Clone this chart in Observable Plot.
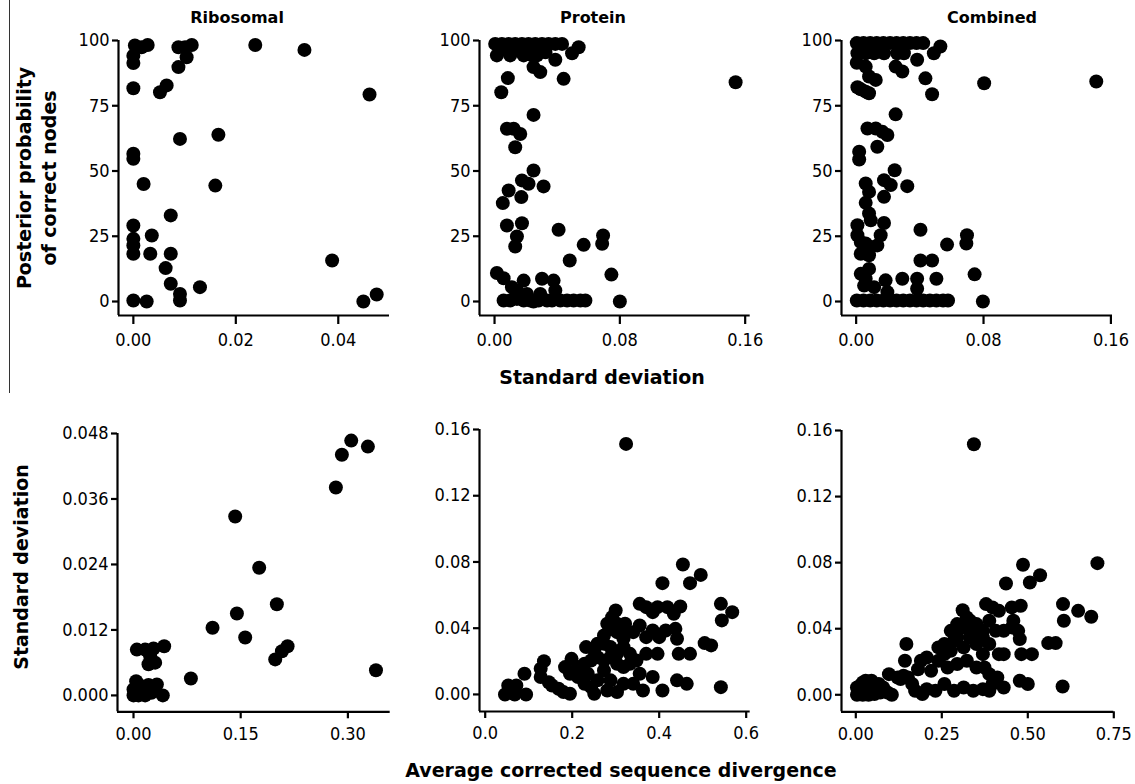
<!DOCTYPE html>
<html>
<head>
<meta charset="utf-8">
<script src="https://cdn.jsdelivr.net/npm/d3@7"></script>
<script src="https://cdn.jsdelivr.net/npm/@observablehq/plot@0.6"></script>
<style>
  html, body { margin: 0; padding: 0; background: #fff; }
  #fig { position: relative; width: 1135px; height: 784px; background: #fff; font-family: "DejaVu Sans", sans-serif; color: #000; overflow: hidden; }
  #fig svg { position: absolute; max-width: none; }
  .lbl { position: absolute; white-space: nowrap; font-weight: bold; transform: translate(-50%, -50%); }
  .rot { transform: translate(-50%, -50%) rotate(-90deg); text-align: center; }
</style>
</head>
<body>
<div id="fig"></div>
<script>
// ---------- Data ----------
const panelTitles = ["Ribosomal", "Protein", "Combined"];
const topYLabel = ["Posterior probability", "of correct nodes"];
const topXLabel = "Standard deviation";
const bottomYLabel = "Standard deviation";
const bottomXLabel = "Average corrected sequence divergence";

const ppTicks = [0, 25, 50, 75, 100];
const riboSdTicks = [0, 0.02, 0.04];
const sdTicks016 = [0, 0.08, 0.16];
const riboSd2Ticks = [0, 0.012, 0.024, 0.036, 0.048];
const riboDivTicks = [0, 0.15, 0.30];
const sd2Ticks016 = [0, 0.04, 0.08, 0.12, 0.16];
const protDivTicks = [0, 0.2, 0.4, 0.6];
const combDivTicks = [0, 0.25, 0.50, 0.75];

// [standard deviation, posterior probability]
const riboTop = [
  [0.0003,98.1],[0.0016,97.4],[0.0028,98.3],[0,94.2],[0,91.4],[0,81.7],[0.0052,80.2],[0.0065,82.8],
  [0.0088,89.8],[0.0088,97.4],[0.0104,93.6],[0.0101,97.4],[0.0114,98.3],[0.0238,98.3],[0.0334,96.4],
  [0.0461,79.3],[0.0166,63.9],[0.0091,62.3],[0,56.6],[0,54.7],[0.002,45.0],[0.016,44.4],[0.0073,33.0],
  [0,29.1],[0.0036,25.3],[0,24.0],[0,21.5],[0,18.3],[0.0033,18.3],[0.0073,18.3],[0.0063,12.8],
  [0.0073,6.8],[0.013,5.5],[0.0091,2.9],[0.0091,0.4],[0,0.4],[0.0026,0],[0.0388,15.7],[0.0449,0],[0.0475,2.7]
];
const protTop = [
  [0.0004,98.7],[0.0047,98.7],[0.009,98.7],[0.0132,98.7],[0.0175,98.7],[0.0217,98.7],[0.026,98.7],
  [0.0303,98.7],[0.0345,98.7],[0.0388,98.7],[0.0431,98.7],[0.0537,97.4],
  [0.0015,94.3],[0.01,94.3],[0.0186,94.3],[0.0239,94.3],[0.0271,94.3],[0.0495,95.1],
  [0.0065,96.5],[0.0155,96.8],[0.0325,95.5],[0.0225,96.2],
  [0.0388,92.6],[0.0249,89.8],[0.0292,87.9],[0.0441,85.3],[0.0085,85.6],[0.0043,80.2],[0.1539,84.0],
  [0.0249,71.5],[0.0079,66.2],[0.0122,66.2],[0.0164,64.2],[0.0132,59.1],
  [0.0249,50.2],[0.0175,46.4],[0.0217,45.1],[0.0313,44.1],[0.009,42.5],[0.0171,40.0],[0.0053,37.7],
  [0.0079,29.1],[0.0175,30.0],[0.0143,24.9],[0.0132,21.1],
  [0.0409,27.5],[0.0569,21.7],[0.0693,25.3],[0.0687,22.1],[0.048,15.7],[0.0746,10.3],[0.08,0],
  [0.0015,10.9],[0.0058,8.9],
  [0.0058,0.4],[0.01,0.4],[0.0143,1.0],[0.0186,8.0],[0.0143,4.2],[0.0207,2.9],[0.0249,0],[0.0303,8.7],
  [0.0292,2.9],[0.0335,0.4],[0.0377,8.0],[0.0388,4.2],[0.042,0.4],[0.0463,0.4],[0.0505,0.4],[0.0548,0.4],
  [0.058,0.4],[0.0111,5.5],[0.0228,0.4],[0.0367,0.4],[0.0281,0.4],[0.0186,0.4]
];
const combTop = [
  [0.0004,99],[0.0046,99],[0.0088,99],[0.0129,99],[0.0171,99],[0.0213,99],[0.0254,99],[0.0296,99],
  [0.0338,99],[0.0379,99],[0.0421,99],[0.0529,97.7],[0.0488,95.1],
  [0.0008,95.1],[0.006,95.1],[0.0113,95.1],[0.0175,95.1],[0.0258,95.1],[0.03,95.1],
  [0.0004,91.5],[0.006,90.0],[0.0081,86.2],[0.0123,84.9],[0.0248,90.0],[0.029,88.1],[0.0383,92.6],
  [0.0435,85.5],[0.0477,79.4],[0.0804,83.6],[0.1508,84.3],
  [0.0008,82.1],[0.0029,81.3],[0.006,80.4],[0.0081,79.8],[0.0248,71.7],
  [0.0071,66.3],[0.0123,66.3],[0.0165,65.0],[0.0196,63.8],[0.0133,59.3],[0.0019,57.4],[0.0019,54.4],
  [0.0242,50.3],[0.0175,46.5],[0.0217,44.6],[0.0321,44.2],[0.0175,40.1],[0.006,45.2],[0.0081,42.0],[0.006,37.8],
  [0.0081,33.7],[0.0092,31.1],[0.0008,29.2],[0.0008,25.4],[0.0029,22.8],[0.006,22.2],[0.0092,20.9],
  [0.0175,30.1],[0.0154,25.4],[0.0133,21.5],[0.0029,18.3],[0.0081,17.7],
  [0.0404,27.5],[0.0571,21.8],[0.0696,25.4],[0.0692,22.2],[0.0404,15.7],[0.0477,15.7],[0.0744,10.4],
  [0.0796,0],[0.0504,8.7],
  [0.0029,10.6],[0.0081,12.5],[0.006,8.7],[0.005,6.1],[0.0113,5.5],[0.0185,8.1],[0.029,8.7],[0.0383,8.7],
  [0.0383,4.9],[0.0196,3.6],
  [0.0004,0.4],[0.0046,0.4],[0.0088,0.4],[0.0129,0.4],[0.0171,0.4],[0.0213,0.4],[0.0254,0.4],[0.0296,0.4],
  [0.0338,0.4],[0.0379,0.4],[0.0421,0.4],[0.0463,0.4],[0.0504,0.4],[0.0546,0.4],[0.0577,0.4]
];
// [average corrected sequence divergence, standard deviation]
const riboBottom = [
  [0.3047,0.0467],[0.2916,0.0441],[0.328,0.0456],[0.2832,0.0381],[0.1423,0.0328],[0.1759,0.0234],
  [0.2006,0.0167],[0.1447,0.0150],[0.1106,0.0124],[0.1563,0.0106],[0.2156,0.0090],[0.2077,0.0081],
  [0.1983,0.0066],[0.3393,0.0046],[0.0803,0.0031],
  [0.0047,0.0084],[0.0163,0.0084],[0.028,0.0086],[0.0429,0.0090],[0.0233,0.0072],[0.021,0.0057],
  [0.0303,0.0060],[0.0037,0.0026],[0.0117,0.0017],[0.021,0.0019],[0.0327,0.0020],[0,0],[0.007,0],
  [0.0163,0],[0.041,0],[0,0.0011],[0.0093,0.0008],[0.025,0.0005],[0.005,0.0005],[0.013,0.0012]
];
const protBottom = [
  [0.3239,0.1513],[0.4545,0.0785],[0.4955,0.0722],[0.4709,0.0672],[0.4075,0.0672],[0.3,0.0507],
  [0.3552,0.0547],[0.3701,0.0527],[0.3851,0.0497],[0.3963,0.0527],[0.4187,0.0527],[0.4336,0.0487],
  [0.4485,0.0531],[0.5418,0.0547],[0.5679,0.0497],[0.544,0.0447],[0.5045,0.0310],[0.5194,0.0296],
  [0.5418,0.0044],[0.441,0.0085],[0.4634,0.0064],[0.4373,0.0396],[0.441,0.0336],[0.4448,0.0245],
  [0.4709,0.0245],[0.4075,0.0024],[0.3851,0.0105],[0.3627,0.0024],[0.3403,0.0064],[0.3701,0.0245],
  [0.3963,0.0245],[0.3403,0.0376],[0.3552,0.0416],[0.3701,0.0346],[0.4,0.0346],[0.3851,0.0386],
  [0.4149,0.0386],[0.3216,0.0427],[0.2731,0.0356],[0.2881,0.0396],[0.303,0.0376],[0.3179,0.0336],
  [0.2321,0.0286],[0.2507,0.0266],[0.2731,0.0306],[0.2881,0.0286],[0.303,0.0245],[0.3179,0.0286],
  [0.3328,0.0245],[0.3478,0.0205],[0.1985,0.0215],[0.1948,0.0125],[0.2134,0.0165],[0.2284,0.0185],
  [0.2433,0.0205],[0.2582,0.0225],[0.2731,0.0205],[0.2881,0.0225],[0.303,0.0185],[0.3179,0.0165],
  [0.3328,0.0185],[0.3552,0.0125],[0.2284,0.0064],[0.2507,0.0004],[0.2806,0.0024],[0.303,0.0014],
  [0.2582,0.0085],[0.2881,0.0085],[0.3179,0.0064],[0.2358,0.0125],[0.2731,0.0145],[0.1948,0.0004],
  [0.1799,0.0014],[0.1687,0.0034],[0.1537,0.0054],[0.1463,0.0074],[0.1276,0.0105],[0.1276,0.0155],
  [0.1351,0.0201],[0.0903,0.0125],[0.094,0],[0.0455,0],[0.053,0.0054],[0.0716,0.0054],[0.0679,0],
  [0.2918,0.0467],[0.2806,0.0427],[0.3030,0.0427],[0.3142,0.0396],[0.2582,0.0306],[0.2134,0.0105],
  [0.2433,0.0044],[0.1836,0.0165]
];
const combBottom = [
  [0.3433,0.1517],[0.486,0.0787],[0.7024,0.0797],[0.5357,0.0724],[0.506,0.068],[0.4366,0.0674],
  [0.6024,0.0549],[0.6464,0.0508],[0.6845,0.0472],[0.6048,0.0448],[0.5595,0.0313],[0.581,0.0313],
  [0.6012,0.005],[0.3106,0.0512],[0.3787,0.0549],[0.3974,0.0529],[0.416,0.0508],[0.4534,0.0529],
  [0.4795,0.0539],[0.458,0.0448],[0.472,0.0387],[0.4767,0.0337],[0.4813,0.0246],[0.5119,0.0246],
  [0.4767,0.0085],[0.5,0.0065],[0.43,0.0044],[0.4114,0.0105],[0.416,0.0246],[0.43,0.0246],
  [0.388,0.0448],[0.4067,0.0387],[0.43,0.0387],[0.4534,0.0408],[0.3321,0.0448],[0.3507,0.0428],
  [0.3694,0.0387],[0.388,0.0307],[0.2761,0.0387],[0.2948,0.0428],[0.3134,0.0408],[0.3321,0.0347],
  [0.3507,0.0307],[0.3694,0.0246],[0.2948,0.0347],[0.3134,0.0287],[0.24,0.0287],[0.2575,0.0246],
  [0.2761,0.0266],[0.24,0.0206],[0.2668,0.0165],[0.2948,0.0186],[0.3228,0.0206],[0.3507,0.0165],
  [0.3741,0.0165],[0.3881,0.0125],[0.2062,0.0226],[0.1893,0.0206],[0.2189,0.0145],[0.1808,0.0155],
  [0.2575,0.0065],[0.2855,0.0024],[0.3134,0.0044],[0.3414,0.0024],[0.3694,0.0034],[0.3881,0.0024],
  [0.3974,0.0065],[0.2315,0.0024],[0.2062,0.0034],[0.1935,0.0004],[0.1724,0.0024],[0.1639,0.0065],
  [0.1513,0.0105],[0.1386,0.0115],[0.147,0.0307],[0.1428,0.0206],[0.0963,0.0125],[0.1217,0.0105],
  [0.1301,0.0095],[0.1048,0],[0.0921,0.0014],[0.0794,0.0044],[0.0668,0.0065],[0.0541,0.0054],
  [0.0456,0.0085],[0.0287,0.0085],[0.0203,0.0075],[0.0118,0.0054],[0.0034,0.0044],[0.0034,0],
  [0.0203,0],[0.0372,0],[0.0541,0.0004],[0.071,0.0014],[0.0372,0.0044],[0.0245,0.0024],[0.0161,0.0004],
  [0.0118,0.0024],[0.3321,0.0387],[0.3507,0.0387],[0.3228,0.0468],[0.3694,0.0347],[0.2575,0.0307],
  [0.2855,0.0327]
];

// ---------- Layout ----------
const fig = document.getElementById("fig");
const TICKFONT = "'DejaVu Sans Condensed', 'DejaVu Sans', sans-serif";

function panel(data, cfg) {
  // cfg.frame: [xLeftPx, xRightPx, yTopPx, yBottomPx] in page pixels
  const [xl, xr, yt, yb] = cfg.frame;
  const mL = 70, mR = 24, mT = 14, mB = 42;
  const W = (xr - xl) + mL + mR, H = (yb - yt) + mT + mB;
  const [xd0, xd1] = cfg.xDomain, [yd0, yd1] = cfg.yDomain;
  const svg = Plot.plot({
    width: W, height: H,
    marginLeft: mL, marginRight: mR, marginTop: mT, marginBottom: mB,
    style: { fontFamily: TICKFONT, fontSize: "18px", fontStretch: "condensed", color: "#000", background: "transparent", overflow: "visible" },
    x: { domain: cfg.xDomain },
    y: { domain: cfg.yDomain },
    marks: [
      Plot.ruleX([xd0], { y1: yd0, y2: yd1, stroke: "#000", strokeWidth: 2.2 }),
      Plot.ruleY([yd0], { x1: xd0, x2: xd1, stroke: "#000", strokeWidth: 2.2 }),
      Plot.axisY(cfg.yTicks, { anchor: "left", tickSize: 6, tickPadding: 3, tickFormat: cfg.yFormat, label: null, strokeWidth: 2.2, fill: "#000" }),
      Plot.axisX(cfg.xTicks, { anchor: "bottom", tickSize: cfg.xTickSize, tickPadding: cfg.xTickPad, tickFormat: cfg.xFormat, label: null, strokeWidth: 2.2, fill: "#000" }),
      Plot.dot(data, { x: d => d[0], y: d => d[1], r: 7, fill: "#000", stroke: "none" })
    ]
  });
  svg.style.left = (xl - mL) + "px";
  svg.style.top = (yt - mT) + "px";
  fig.appendChild(svg);
}

const f0 = d3.format(".0f"), f2 = d3.format(".2f"), f3 = d3.format(".3f"), f1 = d3.format(".1f");

panel(riboTop, { frame: [118, 389, 40, 315], xDomain: [-0.0029, 0.05], yDomain: [-5.36, 100], xTicks: riboSdTicks, yTicks: ppTicks, xFormat: f2, yFormat: f0, xTickSize: 9, xTickPad: 9 });
panel(protTop, { frame: [479.3, 750, 40, 315], xDomain: [-0.0096, 0.1632], yDomain: [-5.36, 100], xTicks: sdTicks016, yTicks: ppTicks, xFormat: f2, yFormat: f0, xTickSize: 9, xTickPad: 9 });
panel(combTop, { frame: [840.7, 1111.7, 40, 315], xDomain: [-0.0092, 0.161], yDomain: [-5.36, 100], xTicks: sdTicks016, yTicks: ppTicks, xFormat: f2, yFormat: f0, xTickSize: 9, xTickPad: 9 });
panel(riboBottom, { frame: [117.3, 390, 432.7, 711], xDomain: [-0.0224, 0.3592], yDomain: [-0.003, 0.048], xTicks: riboDivTicks, yTicks: riboSd2Ticks, xFormat: f2, yFormat: f3, xTickSize: 7, xTickPad: 8 });
panel(protBottom, { frame: [479.3, 750, 429, 711], xDomain: [-0.0131, 0.6092], yDomain: [-0.0103, 0.16], xTicks: protDivTicks, yTicks: sd2Ticks016, xFormat: f1, yFormat: f2, xTickSize: 7, xTickPad: 8 });
panel(combBottom, { frame: [840.7, 1113, 429.7, 711], xDomain: [-0.0416, 0.75], yDomain: [-0.0103, 0.16], xTicks: combDivTicks, yTicks: sd2Ticks016, xFormat: f2, yFormat: f2, xTickSize: 7, xTickPad: 8 });

// ---------- Text ----------
function label(text, x, y, size, cls) {
  const d = document.createElement("div");
  d.className = "lbl" + (cls ? " " + cls : "");
  d.style.left = x + "px"; d.style.top = y + "px"; d.style.fontSize = size + "px";
  d.innerHTML = text;
  fig.appendChild(d);
  return d;
}
label(panelTitles[0], 237, 17, 16);
label(panelTitles[1], 593, 17, 16);
label(panelTitles[2], 992, 17, 16);
const yl = label(topYLabel.join("<br>"), 37, 178, 19, "rot");
yl.style.lineHeight = "25px";
label(topXLabel, 602, 377, 19);
label(bottomYLabel, 21, 567, 19, "rot");
label(bottomXLabel, 621, 770, 19);

// thin rule at the left edge of the upper row
const edge = document.createElement("div");
edge.style.cssText = "position:absolute;left:9px;top:0;width:1px;height:393px;background:#333;";
fig.appendChild(edge);
</script>
</body>
</html>
